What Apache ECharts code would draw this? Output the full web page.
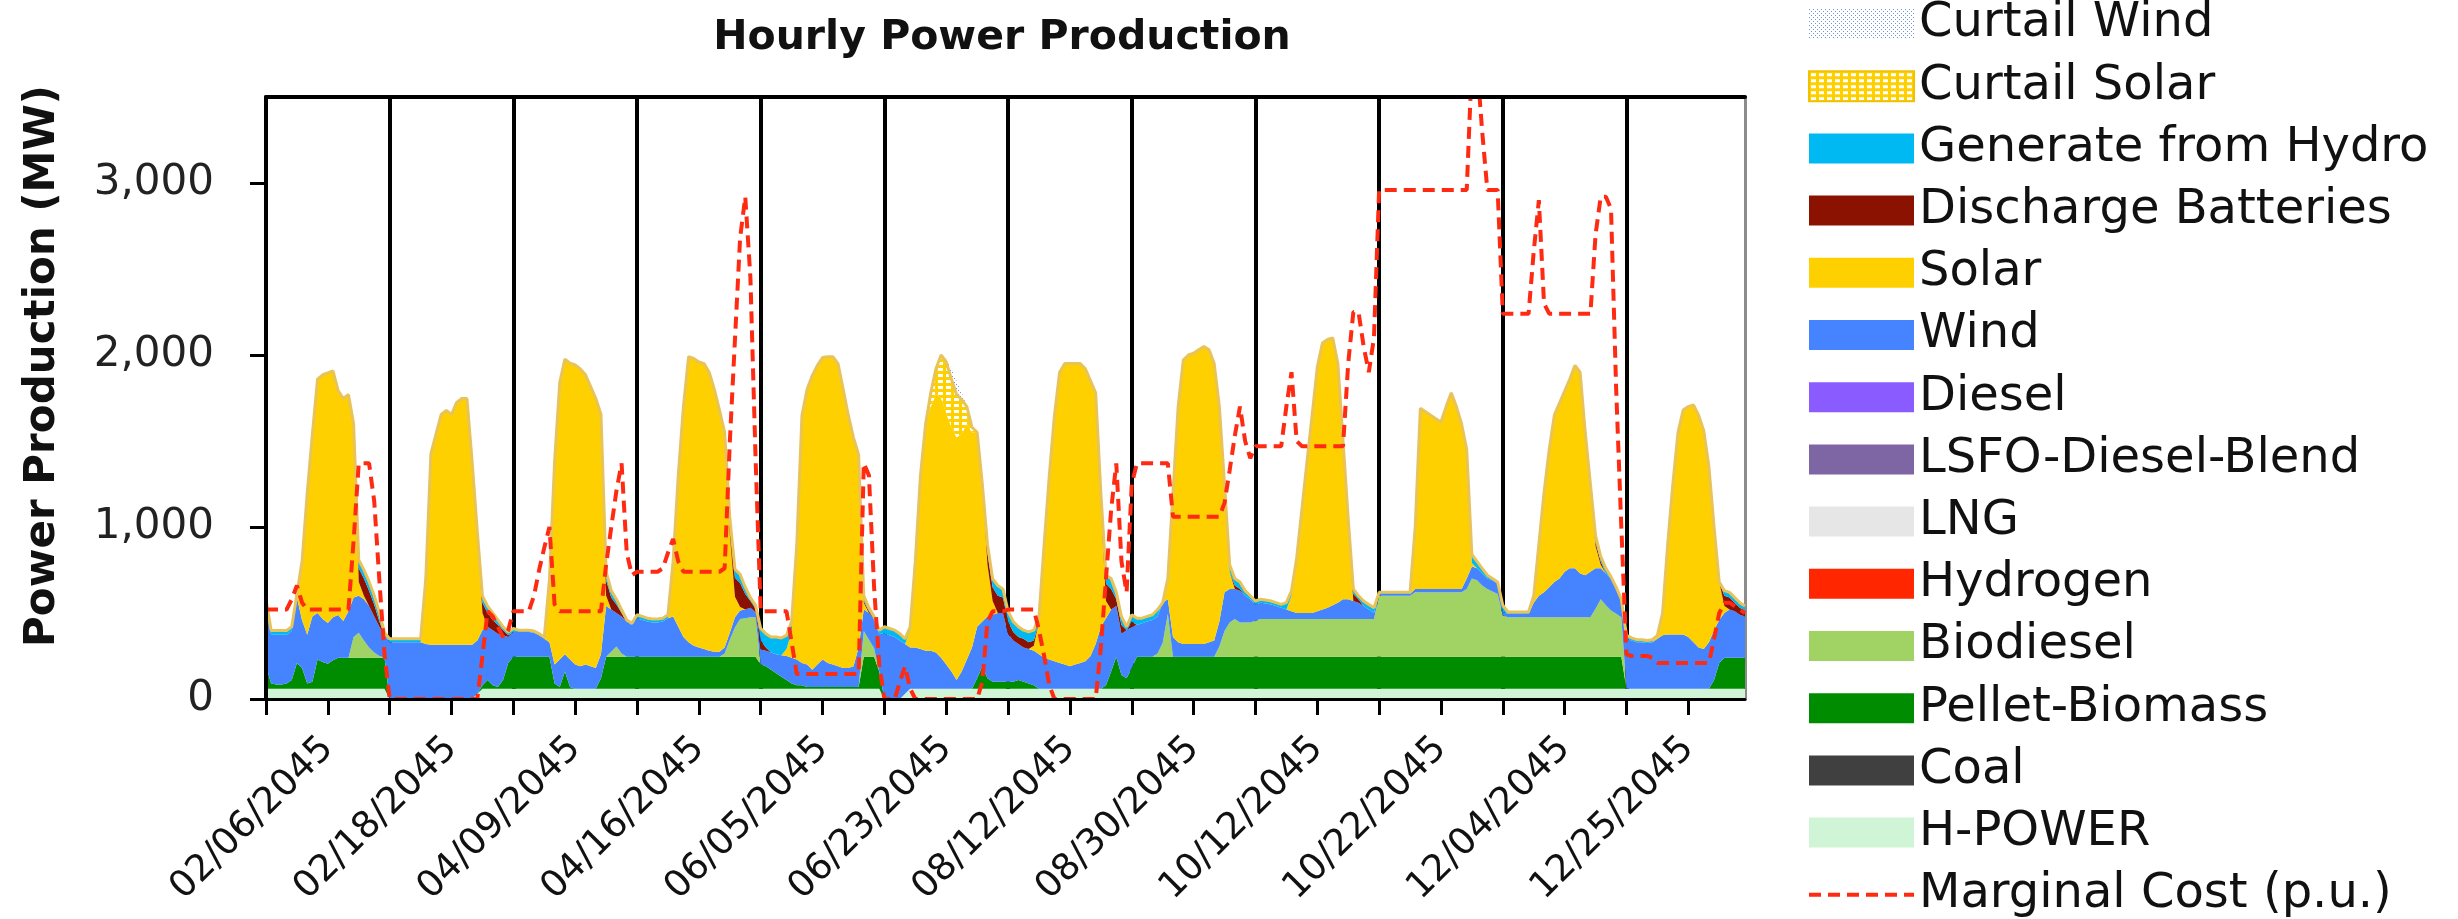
<!DOCTYPE html>
<html>
<head>
<meta charset="utf-8">
<title>Hourly Power Production</title>
<script src="https://cdn.jsdelivr.net/npm/echarts@6/dist/echarts.min.js"></script>
<style>
  html, body { margin: 0; padding: 0; background: #fff; }
  #chart { width: 2458px; height: 919px; }
</style>
</head>
<body>
<div id="chart"></div>
<script>
// sample days, 24 hours each
const days = ['02/06/2045', '02/18/2045', '04/09/2045', '04/16/2045', '06/05/2045', '06/23/2045',
              '08/12/2045', '08/30/2045', '10/12/2045', '10/22/2045', '12/04/2045', '12/25/2045'];
const hourNames = ['00', '01', '02', '03', '04', '05', '06', '07', '08', '09', '10', '11',
                   '12', '13', '14', '15', '16', '17', '18', '19', '20', '21', '22', '23'];
const yTicks = [0, 1000, 2000, 3000];

// a day with nothing
const zeroDay = [0,0,0,0,0,0, 0,0,0,0,0,0, 0,0,0,0,0,0, 0,0,0,0,0,0];

// MW per hour, one row per day
const hPower = [
  60,60,60,60,60,60, 60,60,60,60,60,60, 60,60,60,60,60,60, 60,60,60,60,60,60,
  0,0,0,0,0,0, 0,0,0,0,0,0, 0,0,0,0,0,30, 60,60,60,60,60,60,
  60,60,60,60,60,60, 60,60,60,60,60,60, 60,60,60,60,60,60, 60,60,60,60,60,60,
  60,60,60,60,60,60, 60,60,60,60,60,60, 60,60,60,60,60,60, 60,60,60,60,60,60,
  60,60,60,60,60,60, 60,60,60,60,60,60, 60,60,60,60,60,60, 60,60,60,60,60,60,
  0,0,0,0,30,60, 60,60,60,60,60,60, 60,60,60,60,60,60, 60,60,60,60,60,60,
  60,60,60,60,60,60, 60,60,60,60,60,60, 60,60,60,60,60,60, 60,60,60,60,60,60,
  60,60,60,60,60,60, 60,60,60,60,60,60, 60,60,60,60,60,60, 60,60,60,60,60,60,
  60,60,60,60,60,60, 60,60,60,60,60,60, 60,60,60,60,60,60, 60,60,60,60,60,60,
  60,60,60,60,60,60, 60,60,60,60,60,60, 60,60,60,60,60,60, 60,60,60,60,60,60,
  60,60,60,60,60,60, 60,60,60,60,60,60, 60,60,60,60,60,60, 60,60,60,60,60,60,
  60,60,60,60,60,60, 60,60,60,60,60,60, 60,60,60,60,60,60, 60,60,60,60,60,60
];

const pelletBiomass = [
  130,30,25,25,30,50, 150,120,30,40,170,155, 145,165,180,180,180,180, 180,180,180,180,180,180,
  0,0,0,0,0,0, 0,0,0,0,0,0, 0,0,0,0,0,0, 20,50,20,10,50,150,
  185,185,185,185,185,185, 185,185,30,10,100,10, 0,0,0,0,0,60, 185,185,185,185,185,185,
  185,185,185,185,185,185, 185,185,185,185,185,185, 185,185,185,185,185,185, 185,185,185,185,185,185,
  140,130,110,90,70,50, 30,20,20,10,10,10, 10,10,10,10,10,10, 10,10,185,185,185,100,
  0,0,0,0,0,0, 0,0,0,0,0,0, 0,0,0,0,0,0, 60,130,60,40,40,40,
  40,40,50,40,30,20, 0,0,0,0,0,0, 0,0,0,0,0,0, 0,20,100,185,80,60,
  120,185,185,185,185,185, 185,185,185,185,185,185, 185,185,185,185,185,185, 185,185,185,185,185,185,
  185,185,185,185,185,185, 185,185,185,185,185,185, 185,185,185,185,185,185, 185,185,185,185,185,185,
  185,185,185,185,185,185, 185,185,185,185,185,185, 185,185,185,185,185,185, 185,185,185,185,185,185,
  185,185,185,185,185,185, 185,185,185,185,185,185, 185,185,185,185,185,185, 185,185,185,185,185,185,
  0,0,0,0,0,0, 0,0,0,0,0,0, 0,0,0,0,0,50, 150,180,180,180,180,180
];

const biodiesel = [
  0,0,0,0,0,0, 0,0,0,0,0,0, 0,0,0,0,0,120, 145,100,60,30,10,0,
  ...zeroDay,
  0,0,0,0,0,0, 0,0,0,0,0,0, 0,0,0,0,0,0, 0,30,60,20,0,0,
  0,0,0,0,0,0, 0,0,0,0,0,0, 0,0,0,0,0,20, 100,170,220,225,230,230,
  0,0,0,0,0,0, 0,0,0,0,0,0, 0,0,0,0,0,0, 0,0,150,100,50,0,
  ...zeroDay,
  ...zeroDay,
  0,0,0,0,0,20, 80,250,0,0,0,0, 0,0,0,0,0,60, 150,200,220,200,200,200,
  210,220,220,220,220,220, 220,220,220,220,220,220, 220,220,220,220,220,220, 220,220,220,220,220,220,
  355,355,355,355,355,355, 355,375,375,375,375,375, 375,375,375,375,375,395, 455,445,415,395,380,365,
  240,231,231,231,231,231, 231,231,231,231,231,231, 231,231,231,231,231,231, 280,335,300,270,250,231,
  ...zeroDay
];

const wind = [
  330,283,288,288,283,286, 380,278,283,380,270,250, 237,251,248,213,270,230, 215,240,240,210,170,130,
  330,330,330,330,330,330, 330,320,316,316,316,316, 316,316,316,316,316,310, 320,310,320,310,260,150,
  145,145,145,145,140,125, 105,85,110,160,100,160, 140,130,140,130,120,140, 295,245,195,215,205,185,
  225,215,205,200,200,205, 225,235,175,115,85,65, 55,45,35,30,30,35, 40,60,50,50,55,30,
  90,90,100,110,125,140, 150,150,130,130,100,130, 160,140,130,120,110,110, 120,230,125,155,175,220,
  380,370,360,340,290,240, 240,230,220,220,210,180, 140,100,50,100,170,240, 300,260,360,390,400,400,
  280,240,210,200,200,200, 200,180,170,160,150,140, 130,140,150,160,190,260, 360,390,360,295,240,280,
  240,185,195,205,215,215, 235,85,115,85,75,75, 75,75,75,85,95,145, 225,195,175,185,155,135,
  95,95,90,85,75,65, 55,45,35,35,35,35, 45,55,65,80,95,115, 115,105,95,75,55,35,
  10,10,10,10,10,10, 10,20,20,20,20,20, 20,20,20,20,20,60, 70,70,70,60,65,60,
  20,20,20,20,20,20, 84,124,144,174,204,224, 264,284,284,254,244,264, 235,180,185,185,145,104,
  290,280,270,270,265,270, 290,310,315,315,315,315, 300,270,240,230,270,290, 250,260,280,270,250,240
];

const solar = [
  0,0,0,0,0,0, 20,343,825,1060,1360,1420, 1454,1431,1305,1294,1260,1010, 80,20,0,0,0,0,
  0,0,0,0,0,0, 0,378,1111,1225,1339,1362, 1339,1408,1431,1431,1064,636, 100,0,0,0,0,0,
  0,0,0,0,0,0, 0,364,1180,1610,1716,1723, 1742,1729,1685,1626,1567,1396, 60,0,0,0,0,0,
  0,0,0,0,0,0, 0,320,880,1340,1660,1670, 1660,1660,1620,1525,1405,1250, 570,120,20,0,0,0,
  0,0,0,0,0,40, 150,630,1440,1600,1710,1740, 1755,1780,1790,1760,1620,1470, 1330,1120,40,0,0,0,
  0,0,0,0,0,100, 500,1010,1320,1420,1500,1510, 1460,1420,1410,1380,1370,1250, 1130,800,300,80,0,0,
  0,0,0,0,0,30, 190,660,1070,1430,1690,1750, 1760,1750,1740,1700,1600,1460, 700,100,0,0,0,0,
  0,0,0,0,0,0, 0,120,840,1370,1650,1680, 1690,1710,1730,1700,1610,1250, 570,100,0,0,0,0,
  0,0,0,0,0,0, 0,90,320,600,880,1150, 1420,1550,1560,1555,1390,920, 410,0,0,0,0,0,
  0,0,0,0,0,0, 0,360,1050,1030,1010,990, 970,1060,1140,1060,960,750, 20,0,0,0,0,0,
  0,0,0,0,0,0, 40,300,580,800,970,1020, 1050,1100,1180,1170,830,510, 130,20,0,0,0,0,
  0,0,0,0,0,0, 20,130,525,875,1175,1305, 1340,1380,1350,1270,1020,600, 220,40,0,0,0,0
];

const batteries = [
  0,0,0,0,0,0, 0,0,0,0,0,0, 0,0,0,0,0,0, 80,100,90,70,30,0,
  0,0,0,0,0,0, 0,0,0,0,0,0, 0,0,0,0,0,0, 60,80,60,50,30,10,
  0,0,0,0,0,0, 0,0,0,0,0,0, 0,0,0,0,0,0, 90,70,50,20,0,0,
  0,0,0,0,0,0, 0,0,0,0,0,0, 0,0,0,0,0,0, 60,110,140,90,40,20,
  50,20,0,0,0,0, 0,0,0,0,0,0, 0,0,0,0,0,0, 0,0,10,10,0,0,
  0,0,0,0,0,0, 0,0,0,0,0,0, 0,0,0,0,0,0, 0,0,70,80,100,90,
  70,50,40,50,40,30, 0,0,0,0,0,0, 0,0,0,0,0,0, 50,100,120,40,50,0,
  30,0,0,0,0,0, 0,0,0,0,0,0, 0,0,0,0,0,0, 30,0,20,10,0,0,
  0,0,0,0,0,0, 0,0,0,0,0,0, 0,0,0,0,0,0, 30,40,20,0,0,0,
  ...zeroDay,
  0,0,0,0,0,0, 0,0,0,0,0,0, 0,0,0,0,0,0, 20,20,0,0,0,0,
  0,0,0,0,0,0, 0,0,0,0,0,0, 0,0,0,0,0,0, 0,60,70,50,40,30
];

const hydro = [
  60,25,25,25,25,25, 0,0,0,0,0,0, 0,0,0,0,0,0, 48,51,52,52,53,15,
  20,20,20,20,20,20, 20,0,0,0,0,0, 0,0,0,0,0,0, 40,40,40,30,20,20,
  20,10,10,10,10,10, 10,0,0,0,0,0, 0,0,0,0,0,0, 50,40,30,20,10,10,
  20,20,20,20,20,20, 20,0,0,0,0,0, 0,0,0,0,0,0, 40,50,50,40,20,20,
  70,80,90,100,100,80, 60,40,0,0,0,0, 0,0,0,0,0,0, 0,0,30,20,10,20,
  40,40,40,40,30,20, 0,0,0,0,0,0, 0,0,0,0,0,0, 0,0,50,50,60,50,
  60,60,60,50,60,60, 30,0,0,0,0,0, 0,0,0,0,0,0, 30,50,60,40,50,20,
  40,40,30,30,30,40, 0,0,0,0,0,0, 0,0,0,0,0,0, 30,40,40,40,30,20,
  20,20,20,20,20,20, 40,30,0,0,0,0, 0,0,0,0,0,0, 30,30,20,30,30,30,
  10,10,10,10,10,10, 10,0,0,0,0,0, 0,0,0,0,0,0, 50,40,30,20,10,10,
  40,10,10,10,10,10, 0,0,0,0,0,0, 0,0,0,0,0,0, 40,30,30,10,10,0,
  20,15,15,15,15,15, 0,0,0,0,0,0, 0,0,0,0,0,0, 0,30,30,30,30,30
];

const curtailSolar = [
  ...zeroDay, ...zeroDay, ...zeroDay, ...zeroDay, ...zeroDay,
  0,0,0,0,0,0, 0,0,0,80,150,250, 300,280,250,200,100,30, 0,0,0,0,0,0,
  ...zeroDay, ...zeroDay, ...zeroDay, ...zeroDay, ...zeroDay, ...zeroDay
];

const curtailWind = [
  ...zeroDay, ...zeroDay, ...zeroDay, ...zeroDay, ...zeroDay,
  0,0,0,0,0,0, 0,0,0,0,0,0, 20,60,80,40,0,0, 0,0,0,0,0,0,
  ...zeroDay, ...zeroDay, ...zeroDay, ...zeroDay, ...zeroDay, ...zeroDay
];

// marginal cost, drawn on the MW scale
const marginalCost = [
  520,520,520,520,520,580, 660,560,520,520,520,520, 520,520,520,520,520,920, 1370,1370,1370,1150,690,260,
  0,0,0,0,0,0, 0,0,0,0,0,0, 0,0,0,0,0,0, 250,510,480,420,360,400,
  510,510,510,510,600,750, 880,1000,550,510,510,510, 510,510,510,510,510,510, 780,1000,1210,1370,850,720,
  740,740,740,740,740,760, 850,930,800,740,740,740, 740,740,740,740,740,760, 1490,2090,2680,2920,2450,1400,
  510,510,510,510,510,510, 330,145,145,145,145,145, 145,145,145,145,145,145, 145,145,1370,1300,650,200,
  0,0,0,100,190,60, 0,0,0,0,0,0, 0,0,0,0,0,0, 0,100,450,510,510,510,
  520,520,520,520,520,520, 400,250,80,0,0,0, 0,0,0,0,0,0, 300,700,1100,1370,800,620,
  1250,1370,1370,1370,1370,1370, 1370,1370,1060,1060,1060,1060, 1060,1060,1060,1060,1060,1060, 1140,1330,1530,1700,1500,1400,
  1470,1470,1470,1470,1470,1470, 1700,1900,1500,1470,1470,1470, 1470,1470,1470,1470,1470,1470, 1950,2250,2250,2050,1900,2100,
  2960,2960,2960,2960,2960,2960, 2960,2960,2960,2960,2960,2960, 2960,2960,2960,2960,2960,2960, 3700,3700,3300,2960,2960,2960,
  2240,2240,2240,2240,2240,2240, 2600,2900,2300,2240,2240,2240, 2240,2240,2240,2240,2240,2240, 2700,2920,2920,2850,1800,1000,
  260,250,250,250,250,240, 210,210,210,210,210,210, 210,210,210,210,210,350, 500,560,560,540,520,500
];

// one category per hour
const hours = [];
days.forEach(d => hourNames.forEach(h => hours.push(d + ' ' + h)));

// fill patterns for the curtailment areas
function makePattern(w, h, draw) {
  const c = document.createElement('canvas');
  c.width = w;
  c.height = h;
  draw(c.getContext('2d'));
  return { image: c, repeat: 'repeat' };
}
const curtailSolarFill = makePattern(8, 6, ctx => {
  ctx.fillStyle = '#ffd000';
  ctx.fillRect(0, 0, 8, 6);
  ctx.fillStyle = '#ffffff';
  ctx.fillRect(2, 2, 5, 3);
});
const curtailWindFill = makePattern(4, 4, ctx => {
  ctx.fillStyle = '#ffffff';
  ctx.fillRect(0, 0, 4, 4);
  ctx.fillStyle = '#6f95dd';
  ctx.fillRect(0, 0, 1, 1);
  ctx.fillRect(2, 2, 1, 1);
});

const colors = {
  'H-POWER': '#cff5d6',
  'Coal': '#404040',
  'Pellet-Biomass': '#008c00',
  'Biodiesel': '#a0d264',
  'Hydrogen': '#ff2600',
  'LNG': '#e6e6e6',
  'LSFO-Diesel-Blend': '#7e65a3',
  'Diesel': '#8a5cff',
  'Wind': '#4683ff',
  'Solar': '#ffd000',
  'Discharge Batteries': '#8b1200',
  'Generate from Hydro': '#00b9f2',
  'Curtail Solar': curtailSolarFill,
  'Curtail Wind': curtailWindFill
};

function area(name, data, extra) {
  const fill = colors[name];
  const solid = typeof fill === 'string' ? fill : '#ffd000';
  return Object.assign({
    name: name,
    type: 'line',
    stack: 'gen',
    data: data,
    symbol: 'none',
    showSymbol: false,
    color: solid,
    lineStyle: { width: 0 },
    areaStyle: { color: fill, opacity: 1 },
    emphasis: { disabled: true },
    silent: true,
    z: 2
  }, extra || {});
}

// bottom of the stack first
const series = [
  area('H-POWER', hPower),
  area('Coal', []),
  area('Pellet-Biomass', pelletBiomass),
  area('Biodiesel', biodiesel),
  area('Hydrogen', []),
  area('LNG', []),
  area('LSFO-Diesel-Blend', []),
  area('Diesel', []),
  area('Wind', wind),
  area('Solar', solar),
  area('Discharge Batteries', batteries),
  area('Generate from Hydro', hydro),
  area('Curtail Solar', curtailSolar, { lineStyle: { width: 3, color: '#e8c35a' } }),
  area('Curtail Wind', curtailWind, { color: '#6f95dd' }),
  {
    name: 'Marginal Cost (p.u.)',
    type: 'line',
    data: marginalCost,
    symbol: 'none',
    showSymbol: false,
    color: '#ff2a12',
    lineStyle: { color: '#ff2a12', width: 4, type: [12, 7] },
    emphasis: { disabled: true },
    silent: true,
    z: 4
  }
];

const legendNames = ['Curtail Wind', 'Curtail Solar', 'Generate from Hydro', 'Discharge Batteries', 'Solar',
  'Wind', 'Diesel', 'LSFO-Diesel-Blend', 'LNG', 'Hydrogen', 'Biodiesel', 'Pellet-Biomass', 'Coal', 'H-POWER'];
const legendData = legendNames.map(n => ({
  name: n,
  icon: 'rect',
  itemStyle: n === 'Curtail Solar'
    ? { color: colors[n], borderColor: '#f2c200', borderWidth: 2 }
    : { color: colors[n], borderWidth: 0 }
}));
// dashed line only, no marker
legendData.push({
  name: 'Marginal Cost (p.u.)',
  itemStyle: { color: 'rgba(0,0,0,0)', borderColor: 'rgba(0,0,0,0)', borderWidth: 0, opacity: 0 },
  lineStyle: { color: '#ff2a12', width: 4, type: [12, 7], opacity: 1 }
});

const chart = echarts.init(document.getElementById('chart'), null, { renderer: 'canvas' });
chart.setOption({
  animation: false,
  backgroundColor: '#ffffff',
  textStyle: { fontFamily: 'DejaVu Sans' },
  title: {
    text: 'Hourly Power Production',
    left: 997,
    top: 13,
    textAlign: 'center',
    textStyle: { fontFamily: 'DejaVu Sans', fontWeight: 'bold', fontSize: 41, color: '#111' }
  },
  grid: { left: 266, right: 713, top: 97, bottom: 220, containLabel: false, outerBoundsMode: 'none' },
  legend: {
    orient: 'vertical',
    left: 1807,
    top: 0,
    height: 980,
    padding: 0,
    itemWidth: 105,
    itemHeight: 30,
    itemGap: 14.2,
    selectedMode: false,
    textStyle: { fontFamily: 'DejaVu Sans', fontSize: 48, color: '#111' },
    data: legendData
  },
  // y axis title, rotated
  graphic: [{
    type: 'text',
    x: 43,
    y: 366,
    rotation: Math.PI / 2,
    silent: true,
    style: {
      text: 'Power Production (MW)',
      font: 'bold 42px "DejaVu Sans"',
      fill: '#111',
      align: 'center',
      verticalAlign: 'middle',
      textAlign: 'center',
      textVerticalAlign: 'middle'
    }
  }],
  xAxis: [
    {
      type: 'category',
      data: hours,
      boundaryGap: false,
      z: 5,
      axisLine: { show: true, lineStyle: { color: '#000', width: 3 } },
      axisTick: { show: true, length: 16, interval: i => i % 12 === 0, lineStyle: { color: '#000', width: 3 } },
      axisLabel: {
        interval: i => i % 24 === 12,
        rotate: 45,
        margin: 44,
        fontFamily: 'DejaVu Sans',
        fontSize: 37,
        color: '#111',
        formatter: v => v.split(' ')[0]
      },
      splitLine: { show: false }
    },
    {
      type: 'value',
      position: 'top',
      min: 0,
      max: 1,
      z: 5,
      axisLine: { show: true, onZero: false, lineStyle: { color: '#000', width: 4 } },
      axisTick: { show: false },
      axisLabel: { show: false },
      splitLine: { show: false }
    },
    {
      // day separators, under the areas
      type: 'category',
      data: hours,
      boundaryGap: false,
      position: 'bottom',
      z: 0,
      axisLine: { show: false },
      axisTick: { show: false },
      axisLabel: { show: false },
      splitLine: { show: true, interval: i => i % 24 === 0, lineStyle: { color: '#000', width: 4 } }
    }
  ],
  yAxis: [
    {
      type: 'value',
      min: 0,
      max: 3500,
      interval: 1000,
      z: 5,
      axisLine: { show: true, lineStyle: { color: '#000', width: 4 } },
      axisTick: { show: true, length: 16, customValues: yTicks, lineStyle: { color: '#000', width: 3 } },
      axisLabel: {
        customValues: yTicks,
        margin: 52,
        fontFamily: 'DejaVu Sans',
        fontSize: 42,
        color: '#222',
        formatter: v => Number(v).toLocaleString('en-US')
      },
      splitLine: { show: false }
    },
    {
      type: 'value',
      position: 'right',
      min: 0,
      max: 1,
      axisLine: { show: true, onZero: false, lineStyle: { color: '#8c8c8c', width: 3 } },
      axisTick: { show: false },
      axisLabel: { show: false },
      splitLine: { show: false }
    }
  ],
  series: series
});
</script>
</body>
</html>
